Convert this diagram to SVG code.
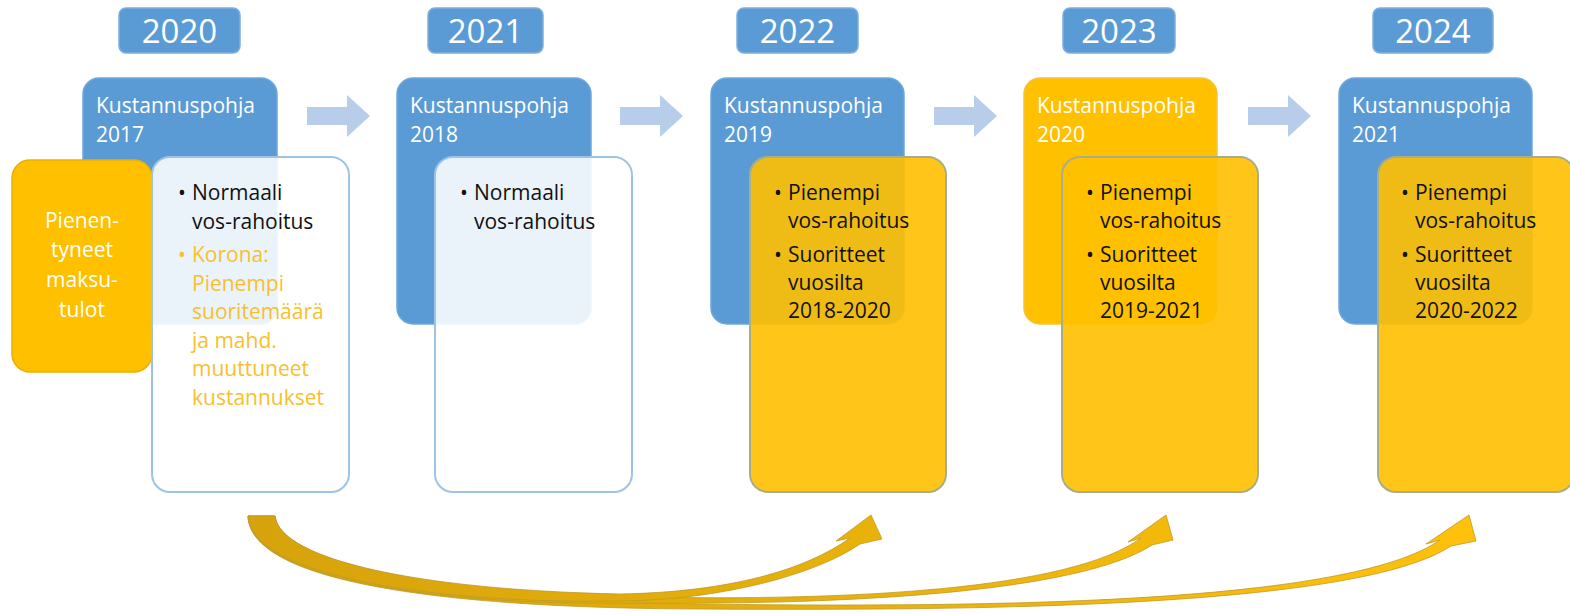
<svg xmlns="http://www.w3.org/2000/svg" width="1570" height="614" viewBox="0 0 1570 614">
<defs>
<style>
.yr{fill:#5B9BD5;stroke:#7FAEDE;stroke-width:1.5}
.yt{font-family:"Open Sans","Liberation Sans",sans-serif;font-size:33px;fill:#fff;text-anchor:middle}
.top{fill:#5B9BD5;stroke:#6FA7DA;stroke-width:1.5}
.topo{fill:#FFC000;stroke:#F5C33A;stroke-width:1.5}
.tt{font-family:"Open Sans","Liberation Sans",sans-serif;font-size:21px;fill:#fff}
.wb{fill:#fff;fill-opacity:0.88;stroke:#9DC3E6;stroke-width:2}
.yb{fill:#FFC000;fill-opacity:0.9;stroke:#A9AE86;stroke-width:2}
.bt{font-family:"Open Sans","Liberation Sans",sans-serif;font-size:21px;fill:#111}
.kt{font-family:"Open Sans","Liberation Sans",sans-serif;font-size:21px;fill:#F7C02C}
.chev{fill:#AFC8E8;fill-opacity:0.9}
.ca{fill:url(#gold);stroke:#BE9A2A;stroke-width:1;stroke-opacity:0.8;stroke-linejoin:round}
</style>
<linearGradient id="gold" gradientUnits="userSpaceOnUse" x1="250" y1="0" x2="1470" y2="0">
<stop offset="0" stop-color="#D6A30C"/>
<stop offset="0.45" stop-color="#E6B00A"/>
<stop offset="1" stop-color="#FFC10A"/>
</linearGradient>
</defs>
<rect width="1570" height="614" fill="#fff"/>

<g id="years">
<g id="y2020"><rect class="yr" x="119" y="8" width="121" height="45" rx="7"/><text class="yt" x="179.5" y="43">2020</text></g>
<g id="y2021"><rect class="yr" x="428" y="8" width="115" height="45" rx="7"/><text class="yt" x="485.5" y="43">2021</text></g>
<g id="y2022"><rect class="yr" x="737" y="8" width="121" height="45" rx="7"/><text class="yt" x="797.5" y="43">2022</text></g>
<g id="y2023"><rect class="yr" x="1063" y="8" width="112" height="45" rx="7"/><text class="yt" x="1119" y="43">2023</text></g>
<g id="y2024"><rect class="yr" x="1373" y="8" width="120" height="45" rx="7"/><text class="yt" x="1433" y="43">2024</text></g>
</g>

<g id="chevrons">
<path class="chev" d="M307 107 H347 V95 L370 116 L347 137 V125 H307 Z"/>
<path class="chev" d="M620 107 H660 V95 L683 116 L660 137 V125 H620 Z"/>
<path class="chev" d="M934 107 H974 V95 L997 116 L974 137 V125 H934 Z"/>
<path class="chev" d="M1248 107 H1288 V95 L1311 116 L1288 137 V125 H1248 Z"/>
</g>

<g id="col1">
<rect class="top" x="83" y="78" width="194" height="246" rx="16"/>
<text class="tt" x="96" y="113">Kustannuspohja</text>
<text class="tt" x="96" y="142">2017</text>
</g>
<g id="pienentyneet">
<rect x="12" y="160" width="140" height="212" rx="18" fill="#FFC000" stroke="#E9B000" stroke-width="1.5"/>
<text class="tt" text-anchor="middle" x="82" y="228">Pienen-</text>
<text class="tt" text-anchor="middle" x="82" y="257">tyneet</text>
<text class="tt" text-anchor="middle" x="82" y="287">maksu-</text>
<text class="tt" text-anchor="middle" x="82" y="317">tulot</text>
</g>
<g id="col1b">
<rect class="wb" x="152" y="157" width="197" height="335" rx="18"/>
<text class="bt" x="178" y="200">•</text>
<text class="bt" x="192" y="200">Normaali</text>
<text class="bt" x="192" y="228.5">vos-rahoitus</text>
<text class="kt" x="178" y="262">•</text>
<text class="kt" x="192" y="262">Korona:</text>
<text class="kt" x="192" y="290.5">Pienempi</text>
<text class="kt" x="192" y="319">suoritemäärä</text>
<text class="kt" x="192" y="347.5">ja mahd.</text>
<text class="kt" x="192" y="376">muuttuneet</text>
<text class="kt" x="192" y="404.5">kustannukset</text>
</g>

<g id="col2">
<rect class="top" x="397" y="78" width="194" height="246" rx="16"/>
<text class="tt" x="410" y="113">Kustannuspohja</text>
<text class="tt" x="410" y="142">2018</text>
<rect class="wb" x="435" y="157" width="197" height="335" rx="18"/>
<text class="bt" x="460" y="200">•</text>
<text class="bt" x="474" y="200">Normaali</text>
<text class="bt" x="474" y="228.5">vos-rahoitus</text>
</g>

<g id="col3">
<rect class="top" x="711" y="78" width="193" height="246" rx="16"/>
<text class="tt" x="724" y="113">Kustannuspohja</text>
<text class="tt" x="724" y="142">2019</text>
<rect class="yb" x="750" y="157" width="196" height="335" rx="18"/>
<text class="bt" x="774" y="200">•</text>
<text class="bt" x="788" y="200">Pienempi</text>
<text class="bt" x="788" y="228">vos-rahoitus</text>
<text class="bt" x="774" y="262">•</text>
<text class="bt" x="788" y="262">Suoritteet</text>
<text class="bt" x="788" y="290">vuosilta</text>
<text class="bt" x="788" y="318">2018-2020</text>
</g>

<g id="col4">
<rect class="topo" x="1024" y="78" width="193" height="246" rx="16"/>
<text class="tt" x="1037" y="113">Kustannuspohja</text>
<text class="tt" x="1037" y="142">2020</text>
<rect class="yb" x="1062" y="157" width="196" height="335" rx="18"/>
<text class="bt" x="1086" y="200">•</text>
<text class="bt" x="1100" y="200">Pienempi</text>
<text class="bt" x="1100" y="228">vos-rahoitus</text>
<text class="bt" x="1086" y="262">•</text>
<text class="bt" x="1100" y="262">Suoritteet</text>
<text class="bt" x="1100" y="290">vuosilta</text>
<text class="bt" x="1100" y="318">2019-2021</text>
</g>

<g id="col5">
<rect class="top" x="1339" y="78" width="193" height="246" rx="16"/>
<text class="tt" x="1352" y="113">Kustannuspohja</text>
<text class="tt" x="1352" y="142">2021</text>
<rect class="yb" x="1378" y="157" width="196" height="335" rx="18"/>
<text class="bt" x="1401" y="200">•</text>
<text class="bt" x="1415" y="200">Pienempi</text>
<text class="bt" x="1415" y="228">vos-rahoitus</text>
<text class="bt" x="1401" y="262">•</text>
<text class="bt" x="1415" y="262">Suoritteet</text>
<text class="bt" x="1415" y="290">vuosilta</text>
<text class="bt" x="1415" y="318">2020-2022</text>
</g>

<g id="connectors">
<path class="ca" d="M248 516 L275 516 C280 565 430 600 700 604 C1000 608 1350 603 1440 540 L1426 544 L1469 515 L1476 541 L1451 546 C1360 606 1000 611 700 609 C430 608 250 580 248 516 Z"/>
<path class="ca" d="M248 516 L275 516 C280 560 420 592 640 597 C850 601 1070 590 1141 538 L1128 542 L1166 515 L1173 540 L1152 545 C1080 592 850 605 640 603 C430 606 250 578 248 516 Z"/>
<path class="ca" d="M248 516 L275 516 C280 560 420 590 620 594 C730 592 805 570 850 538 L836 541 L871 515 L882 539 L860 544 C815 575 720 600 620 601 C430 604 250 575 248 516 Z"/>
</g>
</svg>
